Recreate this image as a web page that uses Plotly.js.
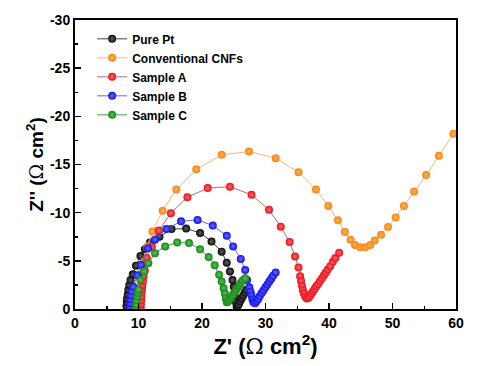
<!DOCTYPE html>
<html>
<head>
<meta charset="utf-8">
<script src="https://cdn.plot.ly/plotly-3.0.1.min.js"></script>
<style>html,body{margin:0;padding:0;background:#fff;}#chart{width:478px;height:366px;}</style>
</head>
<body>
<div id="chart"></div>
<script>
// Series names
const seriesNames = ["Pure Pt", "Conventional CNFs", "Sample A", "Sample B", "Sample C"];

// Pure Pt
const ptX = [8.1, 8.15, 8.2, 8.3, 8.4, 8.55, 8.75, 9.1, 9.6, 10.3, 11.0, 11.8, 13.3, 15.2, 17.5, 19.7, 21.5, 23.1, 23.9, 24.4, 24.8, 25.0, 25.15, 25.25, 25.35, 25.45, 25.6, 25.8, 26.0, 26.25, 26.5, 26.75, 27.0];
const ptY = [-0.3, -0.7, -1.1, -1.5, -2.0, -2.5, -3.0, -3.6, -4.5, -5.5, -6.2, -6.9, -7.5, -8.3, -8.35, -7.9, -7.0, -5.95, -4.8, -3.9, -3.0, -2.3, -1.7, -1.2, -0.7, -0.3, -0.3, -0.5, -0.8, -1.1, -1.4, -1.7, -2.0];

// Conventional CNFs
const cnfX = [10.2, 10.4, 10.7, 11.0, 11.4, 12.2, 13.8, 15.96, 19.1, 23.1, 27.4, 31.6, 35.2, 37.95, 39.9, 41.4, 42.5, 43.4, 44.1, 44.9, 45.7, 46.5, 47.2, 48.2, 49.3, 50.5, 51.8, 53.4, 55.3, 57.3, 59.6];
const cnfY = [-1.0, -2.5, -3.8, -5.0, -6.5, -8.05, -10.2, -12.4, -14.5, -16.0, -16.35, -15.66, -14.2, -12.4, -10.7, -9.2, -8.0, -7.2, -6.65, -6.4, -6.4, -6.65, -7.1, -7.7, -8.5, -9.5, -10.7, -12.2, -13.9, -15.9, -18.2];

// Sample A
const aX = [10.35, 10.38, 10.42, 10.46, 10.5, 10.55, 10.62, 10.7, 10.8, 11.0, 11.3, 12.1, 13.2, 15.1, 17.7, 20.9, 24.4, 27.8, 30.55, 32.4, 33.8, 34.65, 35.2, 35.45, 35.6, 35.75, 35.9, 36.05, 36.25, 36.5, 36.75, 37.0, 37.25, 37.5, 37.75, 38.0, 38.3, 38.6, 38.9, 39.2, 39.5, 39.8, 40.2, 40.6, 41.0, 41.6];
const aY = [-0.1, -0.5, -0.9, -1.3, -1.7, -2.1, -2.5, -2.9, -3.4, -4.0, -5.3, -6.45, -8.15, -9.95, -11.6, -12.55, -12.7, -11.85, -10.3, -8.55, -6.95, -5.45, -4.3, -3.4, -2.9, -2.4, -1.95, -1.6, -1.3, -1.1, -1.15, -1.35, -1.6, -1.85, -2.1, -2.35, -2.6, -2.9, -3.2, -3.5, -3.8, -4.1, -4.45, -4.9, -5.3, -5.85];

// Sample B
const bX = [8.65, 8.7, 8.75, 8.85, 8.95, 9.2, 9.8, 10.4, 11.5, 12.6, 14.4, 16.7, 19.3, 21.7, 23.9, 24.9, 26.1, 26.8, 27.1, 27.45, 27.65, 27.8, 27.95, 28.1, 28.35, 28.6, 28.85, 29.1, 29.4, 29.7, 30.0, 30.3, 30.6, 30.9, 31.2, 31.6];
const bY = [-0.2, -0.6, -1.0, -1.4, -1.85, -2.3, -3.5, -4.6, -6.3, -7.2, -8.3, -9.1, -9.25, -8.66, -7.6, -6.5, -5.2, -4.05, -3.0, -2.25, -1.8, -1.4, -1.0, -0.7, -0.6, -0.8, -1.05, -1.35, -1.65, -1.95, -2.25, -2.55, -2.85, -3.15, -3.45, -3.8];

// Sample C
const cX = [9.6, 9.65, 9.7, 9.8, 9.9, 10.0, 10.3, 10.9, 11.55, 12.6, 14.2, 16.1, 17.95, 19.7, 21.05, 22.0, 22.7, 23.1, 23.4, 23.6, 23.75, 23.9, 24.1, 24.35, 24.6, 24.85, 25.1, 25.35, 25.6, 25.85, 26.1, 26.4, 26.8];
const cY = [-0.2, -0.5, -0.9, -1.3, -1.65, -2.0, -3.0, -3.9, -4.75, -5.8, -6.5, -6.9, -6.85, -6.2, -5.4, -4.55, -3.55, -2.85, -2.15, -1.6, -1.1, -0.7, -0.75, -0.95, -1.2, -1.45, -1.7, -1.95, -2.2, -2.45, -2.7, -2.95, -3.2];

// Axis ticks
const xTickVals = [0, 10, 20, 30, 40, 50, 60];
const xTickText = ["0", "10", "20", "30", "40", "50", "60"];
const yTickVals = [0, -5, -10, -15, -20, -25, -30];
const yTickText = ["0", "-5", "-10", "-15", "-20", "-25", "-30"];

const xs = [ptX, cnfX, aX, bX, cX];
const ys = [ptY, cnfY, aY, bY, cY];
const markerColors = ["#0a0a0a", "#f5860f", "#e8101a", "#1010e8", "#138614"];
const highlightColors = ["#606060", "#ffb060", "#ff6a6a", "#6a6aff", "#5cc05c"];
const lineColors = ["#444444", "#f0b878", "#b86a6a", "#6a6ac0", "#4a944a"];

const traces = seriesNames.map((name, i) => ({
  type: "scatter",
  mode: "lines+markers",
  name: name,
  x: xs[i],
  y: ys[i],
  line: {color: lineColors[i], width: 1},
  marker: {color: markerColors[i], size: 8, line: {width: 0},
           gradient: {type: "radial", color: highlightColors[i]}}
}));

const tickFont = {family: "Liberation Sans, Arial, sans-serif", size: 14, color: "#000", weight: 700};

const layout = {
  width: 478, height: 366,
  margin: {l: 75, r: 22, t: 20, b: 57},
  paper_bgcolor: "#fff", plot_bgcolor: "#fff",
  showlegend: true,
  legend: {x: 0.045, y: 0.985, xanchor: "left", yanchor: "top",
           bgcolor: "rgba(0,0,0,0)", borderwidth: 0,
           font: {family: "Liberation Sans, Arial, sans-serif", size: 12, color: "#000", weight: 700},
           tracegroupgap: 0},
  xaxis: {
    range: [0, 60], tickmode: "array", tickvals: xTickVals, ticktext: xTickText,
    ticks: "inside", ticklen: 6, tickwidth: 1.5, tickcolor: "#000",
    minor: {ticks: "inside", ticklen: 3, tickwidth: 1.5, dtick: 5, tick0: 0, tickcolor: "#000", showgrid: false},
    showline: true, linewidth: 2, linecolor: "#000", mirror: true,
    showgrid: false, zeroline: false, tickfont: tickFont,
    title: {text: "Z' (<span style=\"font-family:DejaVu Serif;font-weight:normal\">Ω</span> cm<sup>2</sup>)",
            font: {family: "Liberation Sans, Arial, sans-serif", size: 22, color: "#000", weight: 700}, standoff: 4}
  },
  yaxis: {
    range: [0, -30], tickmode: "array", tickvals: yTickVals, ticktext: yTickText,
    ticks: "inside", ticklen: 6, tickwidth: 1.5, tickcolor: "#000",
    minor: {ticks: "inside", ticklen: 3, tickwidth: 1.5, dtick: 2.5, tick0: 0, tickcolor: "#000", showgrid: false},
    showline: true, linewidth: 2, linecolor: "#000", mirror: true,
    showgrid: false, zeroline: false, tickfont: tickFont,
    title: {text: "Z'' (<span style=\"font-family:DejaVu Serif;font-weight:normal\">Ω</span> cm<sup>2</sup>)",
            font: {family: "Liberation Sans, Arial, sans-serif", size: 19, color: "#000", weight: 700}, standoff: 1}
  }
};

Plotly.newPlot("chart", traces, layout, {displayModeBar: false, staticPlot: true});
</script>
</body>
</html>
